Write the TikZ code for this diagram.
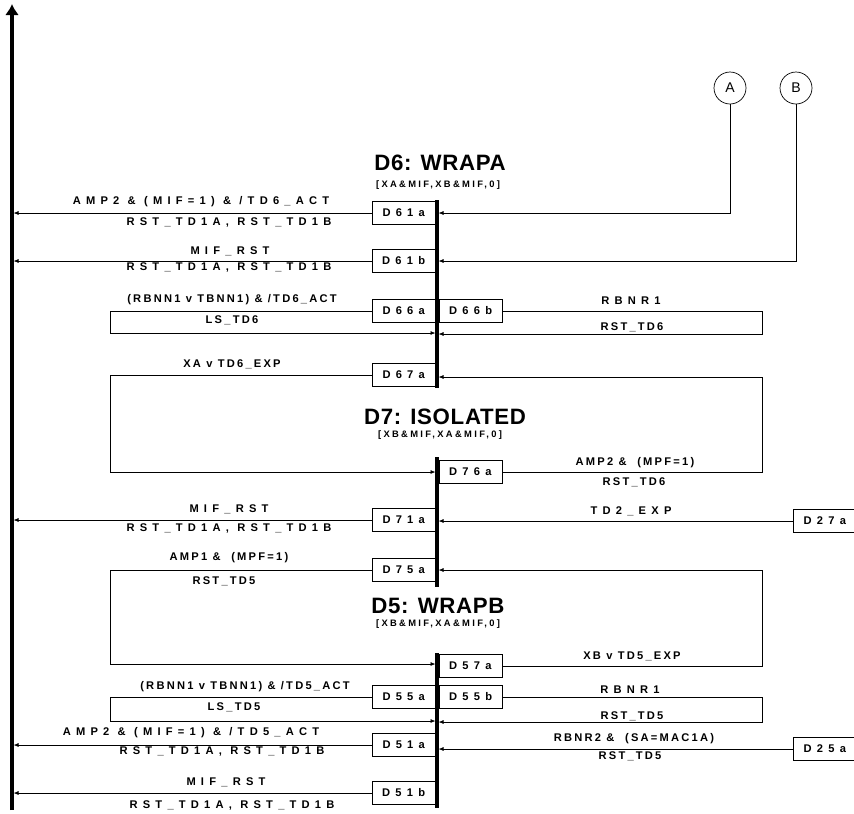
\documentclass[tikz,border=0pt]{standalone}
\usepackage{fontspec}
\setmainfont{Liberation Sans}
\newfontfamily\widefont[LetterSpace=47]{Liberation Sans}
\newfontfamily\normfont[LetterSpace=20]{Liberation Sans}
\newfontfamily\subfont[LetterSpace=25]{Liberation Sans}
\newfontfamily\titlefont[LetterSpace=3]{Liberation Sans}
\usetikzlibrary{arrows.meta,positioning}

\begin{document}
\begin{tikzpicture}[
    x=0.3mm, y=-0.3mm,
    node distance=1mm,
    wlbl/.style={font=\widefont\fontsize{9.5}{11}\selectfont\bfseries, inner sep=0pt},
    nlbl/.style={font=\normfont\fontsize{9.5}{11}\selectfont\bfseries, inner sep=0pt},
    cond/.style={draw, line width=0.6pt, minimum width=18.9mm, minimum height=6.9mm, inner sep=0pt, font=\widefont\fontsize{9.5}{11}\selectfont\bfseries},
    title/.style={font=\titlefont\fontsize{19}{21}\selectfont\bfseries, inner sep=0pt, anchor=base},
    subtitle/.style={font=\subfont\fontsize{8}{9}\selectfont\bfseries, inner sep=0pt, anchor=base},
    circ/.style={draw, circle, line width=0.6pt, minimum size=9.6mm, inner sep=0pt, font=\fontsize{12}{13}\selectfont},
    statebar/.style={line width=3pt},
    flow/.style={-{Latex[length=1.5mm,width=1.2mm]}, line width=0.6pt, shorten >=0.45mm}
]
\useasboundingbox (0,0) rectangle (854,813);

% time axis and state bars
\coordinate (ax) at (12,810);
\coordinate (d6top) at (437,200);
\coordinate (d6bot) at (437,388);
\coordinate (d7top) at (437,457);
\coordinate (d7bot) at (437,587);
\coordinate (d5top) at (437,653);
\coordinate (d5bot) at (437,808);

% loop corners
\coordinate (l66) at (110,333);
\coordinate (r66) at (762,334);
\coordinate (l67) at (110,472);
\coordinate (r76) at (762,377);
\coordinate (l75) at (110,664);
\coordinate (r57) at (762,570);
\coordinate (l55) at (110,721);
\coordinate (r55) at (762,722);

% states
\node[title] (t6) at (440,170) {D6: WRAPA};
\node[subtitle] (s6) at (438,187) {[XA\&MIF,XB\&MIF,0]};
\node[title] (t7) at (445,424) {D7: ISOLATED};
\node[subtitle] (s7) at (440,437) {[XB\&MIF,XA\&MIF,0]};
\node[title] (t5) at (438,613) {D5: WRAPB};
\node[subtitle] (s5) at (438,626) {[XB\&MIF,XA\&MIF,0]};

\node[circ] (A) at (730,88) {A};
\node[circ] (B) at (796,88) {B};

% transition boxes
\node[cond, anchor=east] (d61a) at (435.5,213) {D61a};
\node[cond, anchor=east] (d61b) at (435.5,261) {D61b};
\node[cond, anchor=east] (d66a) at (435.5,311) {D66a};
\node[cond, right=of d66a] (d66b) {D66b};
\node[cond, anchor=east] (d67a) at (435.5,375) {D67a};
\node[cond, anchor=west] (d76a) at (438.5,472) {D76a};
\node[cond, anchor=east] (d71a) at (435.5,520) {D71a};
\node[cond, anchor=west] (d27a) at (793,521) {D27a};
\node[cond, anchor=east] (d75a) at (435.5,570) {D75a};
\node[cond, anchor=west] (d57a) at (438.5,666) {D57a};
\node[cond, anchor=east] (d55a) at (435.5,697) {D55a};
\node[cond, right=of d55a] (d55b) {D55b};
\node[cond, anchor=east] (d51a) at (435.5,745) {D51a};
\node[cond, anchor=west] (d25a) at (793,749) {D25a};
\node[cond, anchor=east] (d51b) at (435.5,793) {D51b};

% conditions / actions
\node[wlbl] (c61a) at (201,202) {AMP2 \& (MIF=1) \& /TD6\_ACT};
\node[wlbl] (a61a) at (229,222) {RST\_TD1A, RST\_TD1B};
\node[wlbl] (c61b) at (230,251) {MIF\_RST};
\node[wlbl] (a61b) at (229,267) {RST\_TD1A, RST\_TD1B};
\node[nlbl] (c66a) at (232,300) {(RBNN1 v TBNN1) \& /TD6\_ACT};
\node[nlbl] (a66a) at (232,320) {LS\_TD6};
\node[wlbl] (c66b) at (631,301) {RBNR1};
\node[nlbl] (a66b) at (632,327) {RST\_TD6};
\node[nlbl] (c67a) at (232,364) {XA v TD6\_EXP};
\node[nlbl] (c76a) at (635,463) {AMP2 \&~ (MPF=1)};
\node[nlbl] (a76a) at (634,482) {RST\_TD6};
\node[wlbl] (c71a) at (229,509) {MIF\_RST};
\node[wlbl] (a71a) at (229,528) {RST\_TD1A, RST\_TD1B};
\node[wlbl] (c27a) at (631,511) {TD2\_EXP};
\node[nlbl] (c75a) at (229,558) {AMP1 \&~ (MPF=1)};
\node[nlbl] (a75a) at (224,581) {RST\_TD5};
\node[nlbl] (c57a) at (632,656) {XB v TD5\_EXP};
\node[nlbl] (c55a) at (245,687) {(RBNN1 v TBNN1) \& /TD5\_ACT};
\node[nlbl] (a55a) at (234,707) {LS\_TD5};
\node[wlbl] (c55b) at (630,690) {RBNR1};
\node[nlbl] (a55b) at (632,716) {RST\_TD5};
\node[wlbl] (c51a) at (191,733) {AMP2 \& (MIF=1) \& /TD5\_ACT};
\node[wlbl] (a51a) at (222,751) {RST\_TD1A, RST\_TD1B};
\node[nlbl] (c25a) at (634,739) {RBNR2 \&~ (SA=MAC1A)};
\node[nlbl] (a25a) at (630,756) {RST\_TD5};
\node[wlbl] (c51b) at (226,782) {MIF\_RST};
\node[wlbl] (a51b) at (232,805) {RST\_TD1A, RST\_TD1B};

% transitions to the axis
\draw[flow] (d61a) -- (d61a -| ax);
\draw[flow] (d61b) -- (d61b -| ax);
\draw[flow] (d71a) -- (d71a -| ax);
\draw[flow] (d51a) -- (d51a -| ax);
\draw[flow] (d51b) -- (d51b -| ax);

% entries into the states
\draw[flow] (A) |- (d61a -| d6top);
\draw[flow] (B) |- (d61b -| d6top);
\draw[flow] (d66a) -| (l66) -- (l66 -| d6top);
\draw[flow] (d66b) -| (r66) -- (r66 -| d6top);
\draw[flow] (d67a) -| (l67) -- (l67 -| d7top);
\draw[flow] (d76a) -| (r76) -- (r76 -| d6top);
\draw[flow] (d27a) -- (d27a -| d7top);
\draw[flow] (d75a) -| (l75) -- (l75 -| d5top);
\draw[flow] (d57a) -| (r57) -- (r57 -| d7top);
\draw[flow] (d55a) -| (l55) -- (l55 -| d5top);
\draw[flow] (d55b) -| (r55) -- (r55 -| d5top);
\draw[flow] (d25a) -- (d25a -| d5top);

\draw[statebar] (d6top) -- (d6bot);
\draw[statebar] (d7top) -- (d7bot);
\draw[statebar] (d5top) -- (d5bot);
\draw[line width=3.4pt, -{Latex[length=3.3mm,width=4.2mm]}] (ax) -- (12,4);
\end{tikzpicture}
\end{document}
